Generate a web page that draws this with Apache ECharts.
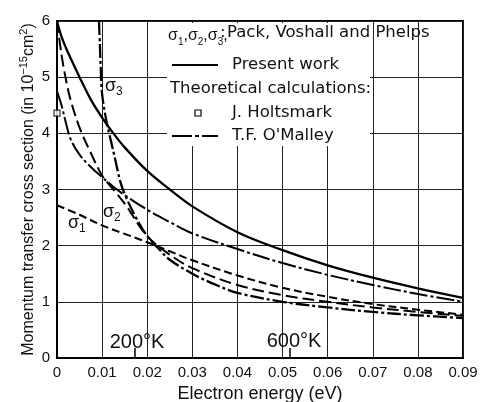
<!DOCTYPE html>
<html>
<head>
<meta charset="utf-8">
<style>
  html, body { margin: 0; padding: 0; background: #fff; }
  #main { width: 482px; height: 402px; }
</style>
<script src="https://cdn.jsdelivr.net/npm/echarts@6.0.0/dist/echarts.min.js"></script>
</head>
<body>
<div id="main"></div>
<script>
// tick labels
const xTickLabels = ['0', '0.01', '0.02', '0.03', '0.04', '0.05', '0.06', '0.07', '0.08', '0.09'];
const yTickLabels = ['0', '1', '2', '3', '4', '5', '6'];

// electron energy (eV) used by most curves
const energy = [0, 0.001, 0.002, 0.003, 0.005, 0.0075, 0.01, 0.0125, 0.015, 0.02, 0.025, 0.03, 0.04, 0.05, 0.06, 0.07, 0.08, 0.09];
// present work (solid)
const presentWork = [6.0, 5.72, 5.52, 5.34, 5.0, 4.6, 4.28, 4.0, 3.75, 3.33, 3.0, 2.7, 2.24, 1.92, 1.65, 1.43, 1.24, 1.07];
// T.F. O'Malley (dash-dot)
const oMalley = [4.75, 4.5, 4.18, 3.9, 3.62, 3.4, 3.22, 3.05, 2.9, 2.64, 2.42, 2.22, 1.94, 1.69, 1.48, 1.3, 1.14, 1.0];
// sigma 2 (long dashes)
const sigma2 = [6.0, 5.4, 4.95, 4.6, 4.1, 3.65, 3.25, 3.0, 2.75, 2.17, 1.84, 1.6, 1.3, 1.12, 1.0, 0.9, 0.82, 0.75];

// sigma 1 (short dashes)
const sigma1Energy = [0, 0.005, 0.01, 0.015, 0.02, 0.025, 0.03, 0.04, 0.05, 0.06, 0.07, 0.08, 0.09];
const sigma1 = [2.72, 2.55, 2.36, 2.21, 2.06, 1.9, 1.74, 1.47, 1.25, 1.09, 0.96, 0.86, 0.77];

// sigma 3 (heavy dash-dot)
const sigma3Energy = [0.0093, 0.0095, 0.0097, 0.01, 0.011, 0.012, 0.013, 0.014, 0.015, 0.0175, 0.02, 0.0225, 0.025, 0.03, 0.035, 0.04, 0.05, 0.06, 0.07, 0.08, 0.09];
const sigma3 = [6.0, 5.6, 5.15, 4.7, 4.2, 3.85, 3.5, 3.15, 2.92, 2.5, 2.17, 1.95, 1.75, 1.5, 1.31, 1.16, 1.0, 0.9, 0.82, 0.76, 0.71];

// J. Holtsmark point
const holtsmark = [[0, 4.36]];
// kT marks for 200 K and 600 K
const kTMarks = [0.0172, 0.0517];

function pairs(xs, ys) {
    return xs.map((x, i) => [x, ys[i]]);
}

const myChart = echarts.init(document.getElementById('main'), null, { renderer: 'canvas' });

const base = {
    type: 'line',
    showSymbol: false,
    smooth: 0.35,
    silent: true,
    z: 3
};

const txt = { fontFamily: 'DejaVu Sans', fontSize: 16.5, fill: '#111' };
const sigmaRich = { s: { fontFamily: 'Liberation Sans', fontSize: 12, fill: '#111', verticalAlign: 'bottom', lineHeight: 12 } };

myChart.setOption({
    backgroundColor: '#fff',
    animation: false,
    grid: {
        left: 57, right: 19, top: 21, bottom: 44,
        outerBoundsMode: 'none',
        show: true, borderColor: '#000', borderWidth: 2
    },
    xAxis: {
        type: 'value',
        min: 0, max: 0.09, interval: 0.01,
        name: 'Electron energy (eV)',
        nameLocation: 'middle',
        nameGap: 27,
        nameMoveOverlap: false,
        nameTextStyle: { fontFamily: 'Liberation Sans', fontSize: 18, color: '#111' },
        axisLine: { show: true, lineStyle: { color: '#000', width: 2 } },
        axisTick: { show: false },
        axisLabel: {
            margin: 7,
            fontFamily: 'Liberation Sans', fontSize: 15, color: '#111',
            formatter: v => xTickLabels[Math.round(v * 100)]
        },
        splitLine: { show: true, lineStyle: { color: '#222', width: 1 } }
    },
    yAxis: {
        type: 'value',
        min: 0, max: 6, interval: 1,
        name: 'Momentum transfer cross section (in 10{sup|−15}cm{sup|2})',
        nameLocation: 'middle',
        nameGap: 17,
        nameMoveOverlap: false,
        nameTextStyle: {
            fontFamily: 'Liberation Sans', fontSize: 16, color: '#111', lineHeight: 22,
            rich: { sup: { fontFamily: 'Liberation Sans', fontSize: 11, color: '#111', verticalAlign: 'top', lineHeight: 11 } }
        },
        axisLine: { show: true, lineStyle: { color: '#000', width: 2 } },
        axisTick: { show: false },
        axisLabel: {
            margin: 7,
            fontFamily: 'Liberation Sans', fontSize: 15, color: '#111',
            formatter: v => yTickLabels[Math.round(v)]
        },
        splitLine: { show: true, lineStyle: { color: '#222', width: 1 } }
    },
    series: [
        Object.assign({}, base, {
            name: 'Present work',
            data: pairs(energy, presentWork),
            lineStyle: { color: '#000', width: 2.3, type: 'solid' },
            markLine: {
                silent: true,
                symbol: ['none', 'none'],
                label: { show: false },
                lineStyle: { color: '#000', width: 1.5, type: 'solid' },
                data: kTMarks.map(k => [{ coord: [k, 0] }, { coord: [k, 0.18] }])
            }
        }),
        Object.assign({}, base, {
            name: "T.F. O'Malley",
            data: pairs(energy, oMalley),
            lineStyle: { color: '#000', width: 2, type: [18, 3, 3, 3] }
        }),
        Object.assign({}, base, {
            name: 'sigma2',
            data: pairs(energy, sigma2),
            lineStyle: { color: '#000', width: 2, type: [12, 5] }
        }),
        Object.assign({}, base, {
            name: 'sigma1',
            data: pairs(sigma1Energy, sigma1),
            lineStyle: { color: '#000', width: 2, type: [8, 4] }
        }),
        Object.assign({}, base, {
            name: 'sigma3',
            data: pairs(sigma3Energy, sigma3),
            lineStyle: { color: '#000', width: 2.3, type: [14, 3, 3, 3] }
        }),
        {
            name: 'J. Holtsmark',
            type: 'scatter',
            data: holtsmark,
            symbol: 'rect',
            symbolSize: 6,
            clip: false,
            z: 4,
            itemStyle: { color: '#fff', borderColor: '#000', borderWidth: 1.2 }
        }
    ],
    graphic: [
        // legend box hides the grid
        { type: 'rect', z: 1, silent: true, shape: { x: 167, y: 23, width: 203, height: 123 }, style: { fill: '#fff' } },
        {
            type: 'text', z: 2, x: 168, y: 36,
            style: {
                text: 'σ{s|1},σ{s|2},σ{s|3},', fontFamily: 'Liberation Sans', fontSize: 16, fill: '#111',
                verticalAlign: 'middle', lineHeight: 22,
                rich: { s: { fontFamily: 'Liberation Sans', fontSize: 10, fill: '#111', verticalAlign: 'bottom', lineHeight: 10 } }
            }
        },
        { type: 'text', z: 2, x: 220, y: 33, style: Object.assign({}, txt, { text: ':', verticalAlign: 'middle' }) },
        { type: 'text', z: 2, x: 227, y: 33, style: Object.assign({}, txt, { text: 'Pack, Voshall and Phelps', verticalAlign: 'middle' }) },
        { type: 'line', z: 2, shape: { x1: 172, y1: 65, x2: 218, y2: 65 }, style: { stroke: '#000', lineWidth: 2 } },
        { type: 'text', z: 2, x: 232, y: 65, style: Object.assign({}, txt, { text: 'Present work', verticalAlign: 'middle' }) },
        { type: 'text', z: 2, x: 170, y: 89, style: Object.assign({}, txt, { text: 'Theoretical calculations:', verticalAlign: 'middle' }) },
        { type: 'rect', z: 2, shape: { x: 195, y: 110, width: 6, height: 6 }, style: { fill: '#fff', stroke: '#000', lineWidth: 1.2 } },
        { type: 'text', z: 2, x: 232, y: 113, style: Object.assign({}, txt, { text: 'J. Holtsmark', verticalAlign: 'middle' }) },
        { type: 'line', z: 2, shape: { x1: 172, y1: 136, x2: 218, y2: 136 }, style: { stroke: '#000', lineWidth: 2, lineDash: [20, 3, 4, 3] } },
        { type: 'text', z: 2, x: 232, y: 136, style: Object.assign({}, txt, { text: "T.F. O'Malley", verticalAlign: 'middle' }) },
        // curve labels
        { type: 'text', z: 5, x: 105, y: 86, style: { text: 'σ{s|3}', fontFamily: 'Liberation Sans', fontSize: 18, fill: '#111', verticalAlign: 'middle', lineHeight: 24, rich: sigmaRich } },
        { type: 'text', z: 5, x: 103, y: 212, style: { text: 'σ{s|2}', fontFamily: 'Liberation Sans', fontSize: 18, fill: '#111', verticalAlign: 'middle', lineHeight: 24, rich: sigmaRich } },
        { type: 'text', z: 5, x: 68, y: 223, style: { text: 'σ{s|1}', fontFamily: 'Liberation Sans', fontSize: 18, fill: '#111', verticalAlign: 'middle', lineHeight: 24, rich: sigmaRich } },
        { type: 'text', z: 5, x: 137, y: 342, style: { text: '200°K', fontFamily: 'Liberation Sans', fontSize: 20, fill: '#111', align: 'center', verticalAlign: 'middle' } },
        { type: 'text', z: 5, x: 294, y: 341, style: { text: '600°K', fontFamily: 'Liberation Sans', fontSize: 20, fill: '#111', align: 'center', verticalAlign: 'middle' } }
    ]
});
</script>
</body>
</html>
